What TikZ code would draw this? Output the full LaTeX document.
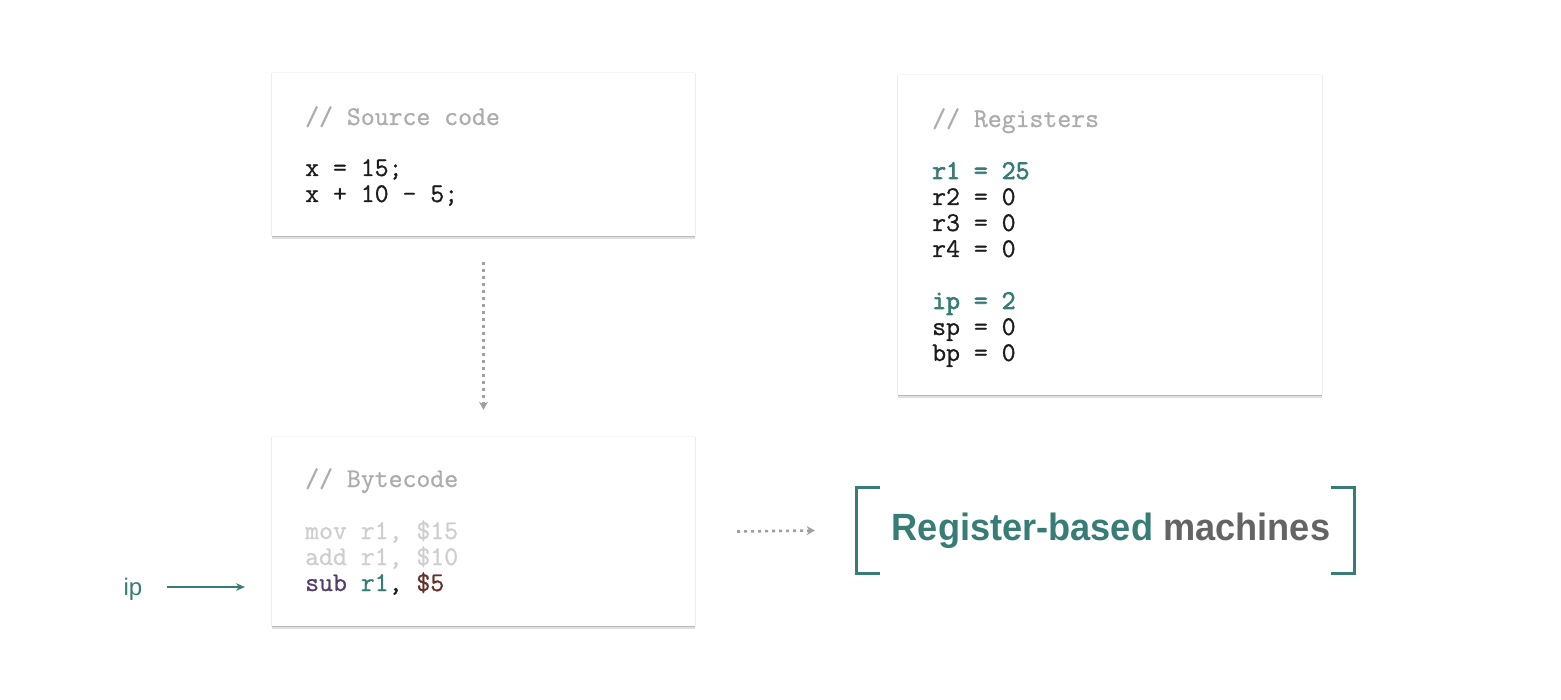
\documentclass[tikz,border=0pt]{standalone}
\usepackage{fontspec}
\setsansfont{Liberation Sans}
\newfontfamily\codefont{Latin Modern Mono}[FakeBold=0.9]
\newfontfamily\codeboldfont{Latin Modern Mono}[FakeBold=2.6]
\usetikzlibrary{arrows.meta}
\definecolor{teal1}{RGB}{55,124,118}
\definecolor{cmt}{RGB}{172,172,172}
\definecolor{faded}{RGB}{206,206,206}
\definecolor{codek}{RGB}{28,28,28}
\definecolor{purp}{RGB}{82,62,104}
\definecolor{brwn}{RGB}{100,48,40}
\definecolor{machgray}{RGB}{100,100,100}
\definecolor{arrgray}{RGB}{160,160,160}
\tikzset{
  box/.style={fill=white, draw=none, inner sep=0pt},
  code/.style={anchor=base west, inner sep=0pt, font=\codefont\fontsize{27}{26}\selectfont, text=codek},
  codebold/.style={code, font=\codeboldfont\fontsize{27}{26}\selectfont, text=teal1},
  dotarrow/.style={draw=arrgray, line width=2.6pt, dash pattern=on 3pt off 4pt, -{Stealth[length=8pt,width=9pt]}},
  iparrow/.style={draw=teal1, line width=2pt, -{Stealth[length=9pt,width=7.5pt]}},
  brk/.style={draw=teal1, line width=2.8pt},
}
\newcommand{\shadowbox}[1]{%
  \draw[black!7, line width=0.8pt] (#1.north west) -- (#1.south west) (#1.north east) -- (#1.south east);
  \draw[black!4, line width=0.8pt] (#1.north west) -- (#1.north east);
  \draw[black!28, line width=1.2pt] ([yshift=-0.6pt]#1.south west) -- ([yshift=-0.6pt]#1.south east);
  \draw[black!12, line width=1.5pt] ([yshift=-2pt]#1.south west) -- ([yshift=-2pt]#1.south east);
}
\begin{document}
\begin{tikzpicture}[x=1pt,y=-1pt]
\useasboundingbox (0,0) rectangle (1561,700);
\fill[white] (0,0) rectangle (1561,700);

% boxes
\node[box, minimum width=423pt, minimum height=163pt] (src) at (483.5,154.5) {};
\node[box, minimum width=424pt, minimum height=320pt] (regs) at (1110,235) {};
\node[box, minimum width=423pt, minimum height=189pt] (byte) at (483.5,531.5) {};
\shadowbox{src}
\shadowbox{regs}
\shadowbox{byte}

% source code
\node[code, text=cmt] (s0) at (305,125) {// Source code};
\node[code] (s1) at (305,176) {x = 15;};
\node[code] (s2) at (305,202) {x + 10 - 5;};

% registers
\node[code, text=cmt] (r0) at (932,127) {// Registers};
\node[codebold] (r1) at (932,179) {r1 = 25};
\node[code] (r2) at (932,205) {r2 = 0};
\node[code] (r3) at (932,231) {r3 = 0};
\node[code] (r4) at (932,257) {r4 = 0};
\node[codebold] (r5) at (932,309) {ip = 2};
\node[code] (r6) at (932,335) {sp = 0};
\node[code] (r7) at (932,361) {bp = 0};

% bytecode
\node[code, text=cmt] (b0) at (305,487) {// Bytecode};
\node[code, text=faded] (b1) at (305,539) {mov r1, \$15};
\node[code, text=faded] (b2) at (305,565) {add r1, \$10};
\node[code] (b3) at (305,591) {\textcolor{purp}{sub} \textcolor{teal1}{r1}, \textcolor{brwn}{\$5}};

% ip pointer
\node[anchor=base, inner sep=0pt, text=teal1, font=\sffamily\fontsize{24}{26}\selectfont] (ip) at (133,595) {ip};
\coordinate (ipend) at (245,587);
\draw[iparrow] (167,587) -- (ipend);

% title with brackets
\node[inner sep=0pt, minimum width=497pt, minimum height=85pt] (title) at (1105.5,530.5) {};
\node[inner sep=0pt, font=\sffamily\bfseries\fontsize{38}{40}\selectfont] (ttext) at (1111,531)
  {\scalebox{0.952}[1]{\textcolor{teal1}{Register-based} \textcolor{machgray}{machines}}};
\draw[brk] ([xshift=23pt]title.north west) -- (title.north west) -- (title.south west) -- ([xshift=23pt]title.south west);
\draw[brk] ([xshift=-23pt]title.north east) -- (title.north east) -- (title.south east) -- ([xshift=-23pt]title.south east);

% dotted arrows
\draw[dotarrow] ([yshift=-26pt]src.south) -- ([yshift=27pt]byte.north);
\draw[dotarrow] ([xshift=42pt]byte.east) -- ([xshift=-42pt]title.west);
\end{tikzpicture}
\end{document}
